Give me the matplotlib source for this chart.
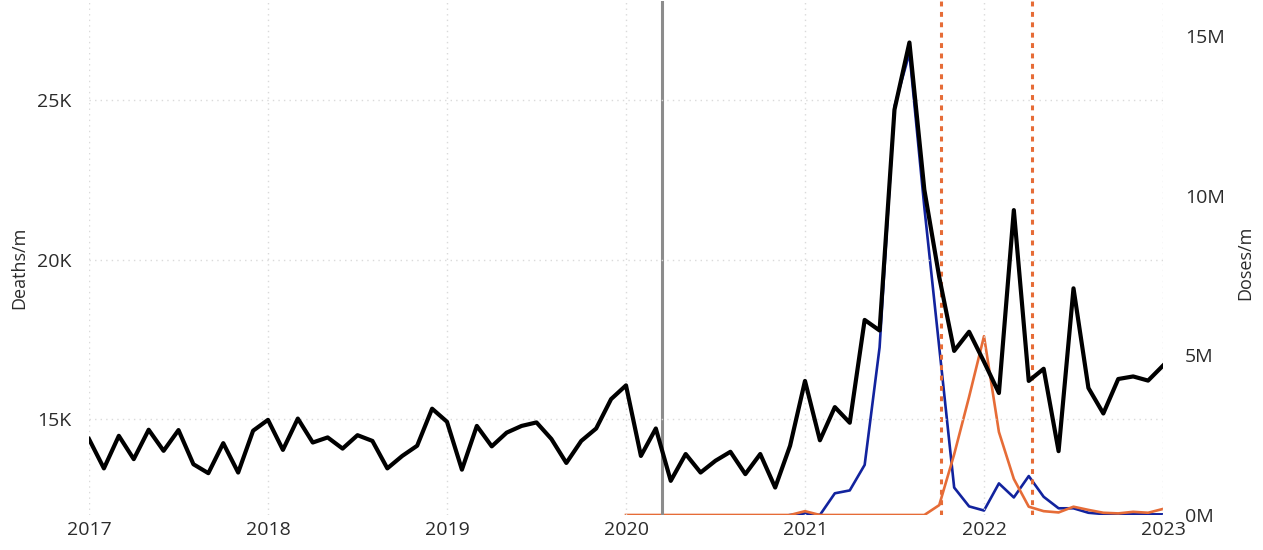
import numpy as np
import matplotlib
matplotlib.use("Agg")
import matplotlib.pyplot as plt

plt.rcParams["font.family"] = ["Open Sans", "DejaVu Sans"]

# ------------------------------------------------------------------
# Data (monthly, Jan 2017 .. Jan 2023)
# ------------------------------------------------------------------
deaths_k = [
    14.38, 13.46, 14.48, 13.75, 14.67, 14.01, 14.66, 13.59, 13.31, 14.25, 13.33, 14.64,  # 2017
    14.98, 14.04, 15.02, 14.27, 14.43, 14.08, 14.50, 14.32, 13.46, 13.85, 14.17, 15.33,  # 2018
    14.92, 13.42, 14.79, 14.15, 14.58, 14.79, 14.90, 14.38, 13.63, 14.32, 14.71, 15.63,  # 2019
    16.06, 13.85, 14.71, 13.07, 13.91, 13.33, 13.70, 13.98, 13.28, 13.91, 12.86, 14.17,  # 2020
    16.20, 14.34, 15.38, 14.89, 18.11, 17.78, 24.70, 26.80, 22.19, 19.45, 17.14, 17.74,  # 2021
    16.80, 15.82, 21.55, 16.20, 16.58, 14.00, 19.10, 15.98, 15.18, 16.26, 16.34, 16.21,  # 2022
    16.68,                                                                                # 2023
]

# doses (millions), orange series starts Jan 2020
booster_m = [
    0, 0, 0, 0, 0, 0, 0, 0, 0, 0, 0, 0,                                  # 2020
    0.12, 0, 0, 0, 0, 0, 0, 0, 0, 0.31, 1.90, 3.70,                      # 2021
    5.60, 2.60, 1.13, 0.26, 0.12, 0.08, 0.26, 0.16, 0.07, 0.05, 0.10, 0.07,  # 2022
    0.19,                                                                # 2023
]

# blue series starts Dec 2020
primary_m = [
    0,                                                                        # Dec 2020
    0.05, 0, 0.68, 0.77, 1.57, 5.25, 12.80, 14.47, 9.64, 5.25, 0.86, 0.27,    # 2021
    0.14, 0.99, 0.55, 1.22, 0.57, 0.21, 0.21, 0.07, 0.03, 0.02, 0.02, 0.02,   # 2022
    0.02,                                                                     # 2023
]

years = [2017, 2018, 2019, 2020, 2021, 2022, 2023]
lockdown_x = 2020.2
booster_marks = [2021.76, 2022.27]

x_deaths = 2017 + np.arange(len(deaths_k)) / 12
x_booster = 2020 + np.arange(len(booster_m)) / 12
x_primary = 2020 + 11 / 12 + np.arange(len(primary_m)) / 12

# ------------------------------------------------------------------
# Plot
# ------------------------------------------------------------------
txt = "#2b2b2b"
fig = plt.figure(figsize=(12.63, 5.5), dpi=100)
ax = fig.add_axes([89 / 1263, 35 / 550, 1074 / 1263, 514 / 550])
ax2 = ax.twinx()

ax2.plot(x_primary, primary_m, color="#12239E", lw=1.9)
ax2.plot(x_booster, booster_m, color="#E66C37", lw=1.9)
ax2.set_ylim(0, 16.1)
ax2.set_yticks([0, 5, 10, 15])
ax2.set_yticklabels(["0M", "5M", "10M", "15M"])

ax.plot(x_deaths, deaths_k, color="black", lw=3)
ax.axvline(lockdown_x, color="#8c8c8c", lw=2.2, zorder=1)
for xv in booster_marks:
    ax.axvline(xv, color="#E66C37", lw=2.2, ls=(0, (1.6, 1.8)), zorder=1)

ax.set_xlim(2017, 2023)
ax.set_ylim(12.0, 28.1)
ax.set_xticks(years)
ax.set_xticklabels([str(y) for y in years])
ax.set_yticks([15, 20, 25])
ax.set_yticklabels(["15K", "20K", "25K"])
ax.grid(True, color="#dadada", ls=(0, (1, 3)), lw=1)

ax.set_zorder(ax2.get_zorder() + 1)
ax.patch.set_visible(False)

for a in (ax, ax2):
    for s in a.spines.values():
        s.set_visible(False)
ax.tick_params(axis="y", length=0, pad=13, labelsize=14, labelcolor=txt)
ax.tick_params(axis="x", length=0, pad=4, labelsize=14, labelcolor=txt)
ax2.tick_params(axis="y", length=0, pad=16, labelsize=14, labelcolor=txt)

ax.set_ylabel("Deaths/m", fontsize=13, color=txt)
ax.yaxis.set_label_coords(-0.057, 0.48)
ax2.set_ylabel("Doses/m", fontsize=13, color=txt)
ax2.yaxis.set_label_coords(1.068, 0.49)

fig.savefig("out.png", dpi=100)
